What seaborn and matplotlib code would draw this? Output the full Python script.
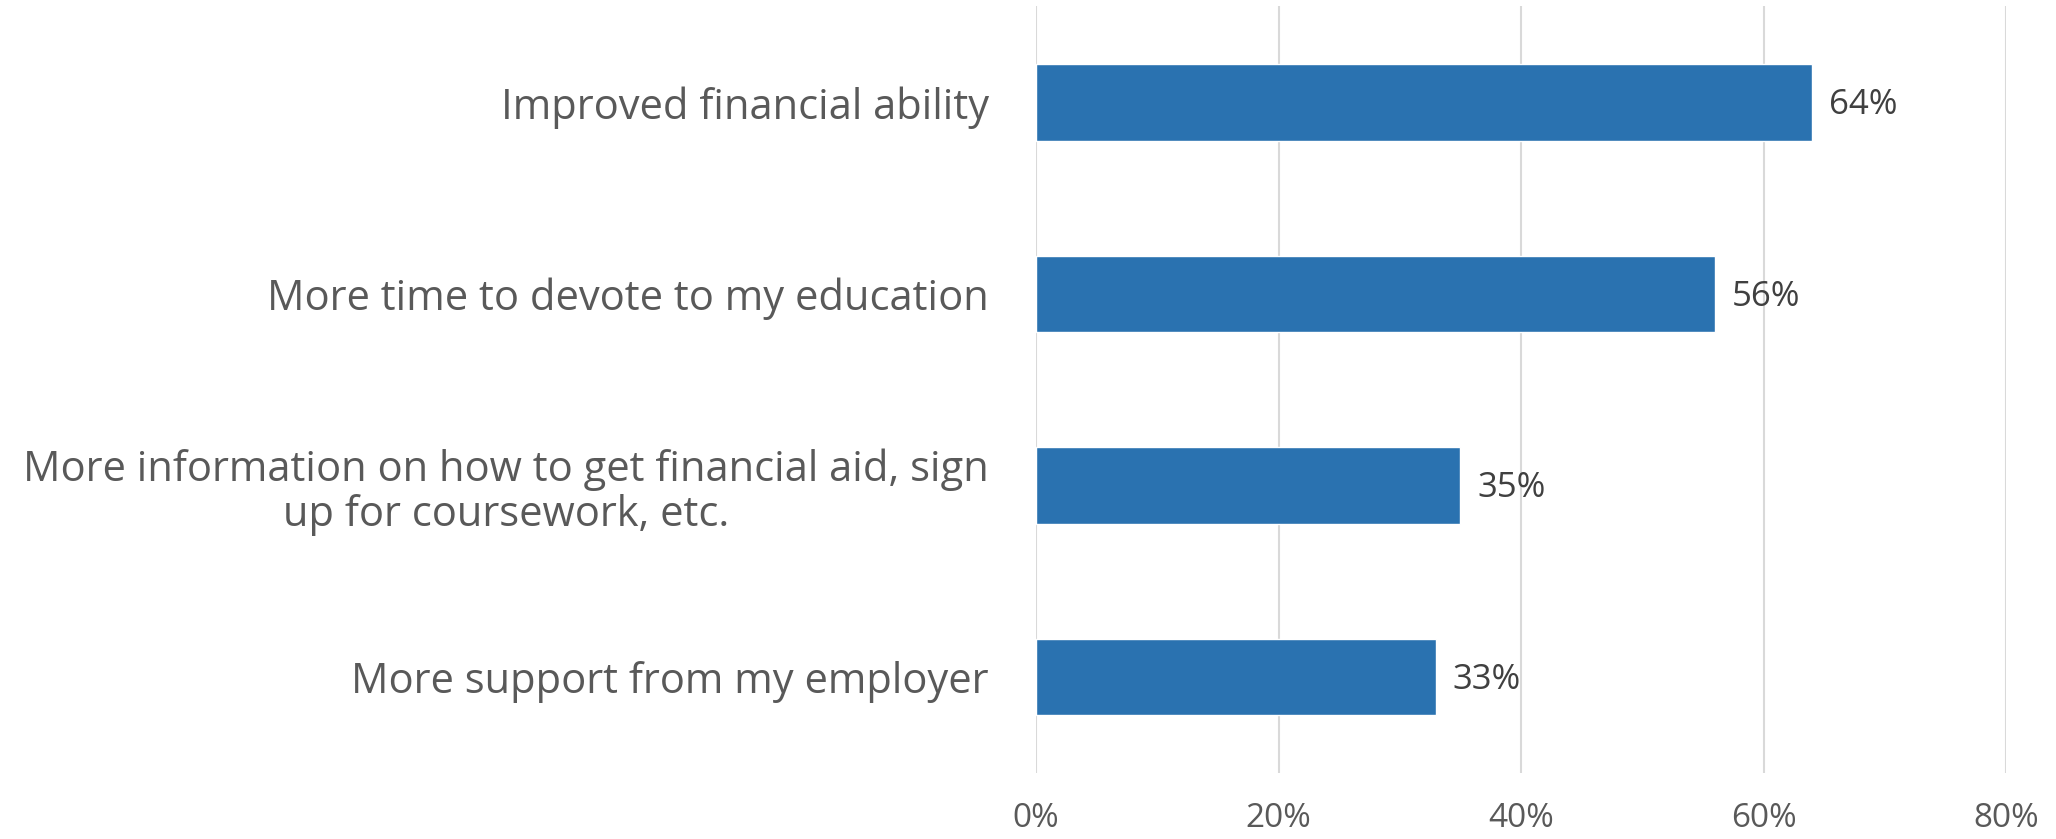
import matplotlib
matplotlib.use("Agg")
import matplotlib.pyplot as plt
import seaborn as sns
import pandas as pd

categories = [
    "Improved financial ability",
    "More time to devote to my education",
    "More information on how to get financial aid, sign\nup for coursework, etc.",
    "More support from my employer",
]
values = [64, 56, 35, 33]
x_ticks = [0, 20, 40, 60, 80]
x_tick_labels = ["0%", "20%", "40%", "60%", "80%"]

sns.set_theme(style="white")
plt.rcParams["font.family"] = ["Open Sans", "DejaVu Sans"]

df = pd.DataFrame({"category": categories, "value": values})

fig = plt.figure(figsize=(20.56, 8.39), dpi=100)
ax = fig.add_axes([0.5039, 0.0787, 0.4718, 0.9136])

sns.barplot(data=df, y="category", x="value", orient="h", color="#2a72b0",
            saturation=1, width=0.4, ax=ax)

ax.set_xlim(0, 80)
ax.set_ylim(3.5, -0.5)
ax.set_xticks(x_ticks)
ax.set_xticklabels(x_tick_labels)
ax.xaxis.grid(True, color="#d9d9d9", linewidth=1.5)
ax.set_axisbelow(True)
for s in ax.spines.values():
    s.set_visible(False)
ax.set_xlabel("")
ax.set_ylabel("")
ax.tick_params(axis="x", length=0, pad=21, labelsize=24, labelcolor="#595959")
ax.tick_params(axis="y", length=0, pad=34, labelsize=30, labelcolor="#595959")
for lbl in ax.get_yticklabels():
    lbl.set_multialignment("center")
    lbl.set_linespacing(1.1)

for i, v in enumerate(values):
    ax.annotate(f"{v}%", xy=(v, i), xytext=(12, -2), textcoords="offset points",
                va="center", ha="left", fontsize=25, color="#404040")

fig.savefig("out.png", dpi=100)
